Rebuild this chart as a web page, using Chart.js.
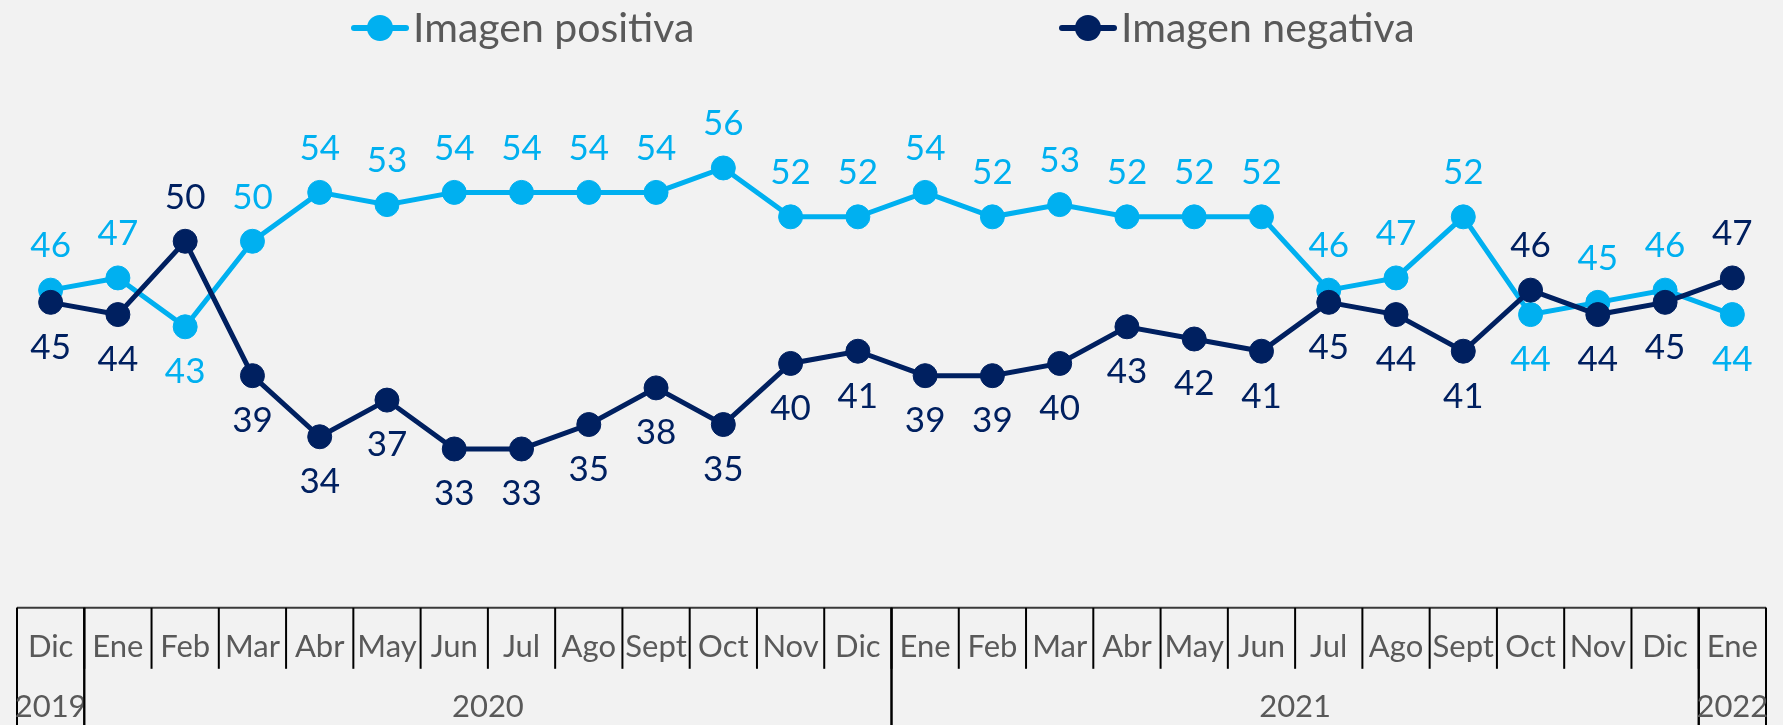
<!DOCTYPE html>
<html>
<head>
<meta charset="utf-8">
<script src="https://cdn.jsdelivr.net/npm/chart.js@4.4.0/dist/chart.umd.min.js"></script>
<style>
    html, body { margin: 0; padding: 0; background: #f2f2f2; }
    #chart { display: block; background: #f2f2f2; }
</style>
</head>
<body>
<canvas id="chart" width="1783" height="725"></canvas>
<script>
const MONTHS = [
    'Dic',
    'Ene', 'Feb', 'Mar', 'Abr', 'May', 'Jun', 'Jul', 'Ago', 'Sept', 'Oct', 'Nov', 'Dic',
    'Ene', 'Feb', 'Mar', 'Abr', 'May', 'Jun', 'Jul', 'Ago', 'Sept', 'Oct', 'Nov', 'Dic',
    'Ene'
];
const YEARS = ['2019', '2020', '2021', '2022'];
const YEAR_SPANS = [1, 12, 12, 1];

const POSITIVE = [46, 47, 43, 50, 54, 53, 54, 54, 54, 54, 56, 52, 52, 54, 52, 53, 52, 52, 52, 46, 47, 52, 44, 45, 46, 44];
const NEGATIVE = [45, 44, 50, 39, 34, 37, 33, 33, 35, 38, 35, 40, 41, 39, 39, 40, 43, 42, 41, 45, 44, 41, 46, 44, 45, 47];

const SERIES_NAMES = ['Imagen positiva', 'Imagen negativa'];

const COLORS = {
    positive: '#00b0f0',
    negative: '#002060',
    text: '#595959',
    rule: '#000000',
    topRule: '#3a3a3a'
};

const FONT = 'Lato, "Noto Sans", sans-serif';

// value labels: the higher series of each month goes above its point, the lower one below
const valueLabels = {
    id: 'valueLabels',
    afterDatasetsDraw(chart) {
        const ctx = chart.ctx;
        const series = [POSITIVE, NEGATIVE];
        ctx.save();
        ctx.font = '35px ' + FONT;
        ctx.textAlign = 'center';
        ctx.textBaseline = 'middle';
        chart.data.datasets.forEach((ds, di) => {
            const meta = chart.getDatasetMeta(di);
            const other = series[1 - di];
            meta.data.forEach((pt, i) => {
                const v = ds.data[i];
                const above = v > other[i];
                const y = above ? pt.y - 44 : pt.y + 45;
                ctx.fillStyle = ds.borderColor;
                ctx.fillText(String(v), pt.x, y);
            });
        });
        ctx.restore();
    }
};

// month/year table under the plot, built off the category scale
const axisTable = {
    id: 'axisTable',
    afterDraw(chart) {
        const ctx = chart.ctx;
        const x = chart.scales.x;
        const top = chart.chartArea.bottom;
        const bottom = chart.height;
        const half = (x.getPixelForValue(1) - x.getPixelForValue(0)) / 2;
        const edge = i => x.getPixelForValue(i) - half;

        ctx.save();
        ctx.strokeStyle = COLORS.topRule;
        ctx.lineWidth = 2;
        ctx.beginPath();
        ctx.moveTo(edge(0), top);
        ctx.lineTo(edge(MONTHS.length), top);
        ctx.stroke();

        ctx.strokeStyle = COLORS.rule;
        ctx.lineWidth = 2;
        for (let i = 0; i <= MONTHS.length; i++) {
            ctx.beginPath();
            ctx.moveTo(edge(i), top);
            ctx.lineTo(edge(i), top + 61);
            ctx.stroke();
        }

        let start = 0;
        ctx.font = '31px ' + FONT;
        ctx.fillStyle = COLORS.text;
        ctx.textAlign = 'center';
        ctx.textBaseline = 'middle';
        YEARS.forEach((yr, k) => {
            const end = start + YEAR_SPANS[k];
            [start, end].forEach(b => {
                ctx.beginPath();
                ctx.moveTo(edge(b), top);
                ctx.lineTo(edge(b), bottom);
                ctx.stroke();
            });
            ctx.fillText(yr, (edge(start) + edge(end)) / 2, 707);
            start = end;
        });
        ctx.restore();
    }
};

// legend with line-and-dot markers
const lineLegend = {
    id: 'lineLegend',
    afterDraw(chart) {
        const ctx = chart.ctx;
        const spots = [380, 1088];
        ctx.save();
        chart.data.datasets.forEach((ds, i) => {
            const cx = spots[i];
            const cy = 28;
            ctx.strokeStyle = ds.borderColor;
            ctx.lineWidth = 6;
            ctx.lineCap = 'round';
            ctx.beginPath();
            ctx.moveTo(cx - 26, cy);
            ctx.lineTo(cx + 26, cy);
            ctx.stroke();
            ctx.fillStyle = ds.borderColor;
            ctx.beginPath();
            ctx.arc(cx, cy, 13, 0, Math.PI * 2);
            ctx.fill();

            ctx.font = '41px ' + FONT;
            ctx.fillStyle = COLORS.text;
            ctx.textAlign = 'left';
            ctx.textBaseline = 'alphabetic';
            ctx.fillText(ds.label, cx + 33, 42);
        });
        ctx.restore();
    }
};

function makeChart() {
    const ctx = document.getElementById('chart').getContext('2d');
    new Chart(ctx, {
        type: 'line',
        data: {
            labels: MONTHS,
            datasets: [{
                label: SERIES_NAMES[0],
                data: POSITIVE,
                borderColor: COLORS.positive,
                backgroundColor: COLORS.positive,
                borderWidth: 5,
                pointRadius: 12,
                pointBorderWidth: 1,
                pointBackgroundColor: COLORS.positive,
                tension: 0,
                order: 2
            }, {
                label: SERIES_NAMES[1],
                data: NEGATIVE,
                borderColor: COLORS.negative,
                backgroundColor: COLORS.negative,
                borderWidth: 5,
                pointRadius: 12,
                pointBorderWidth: 1,
                pointBackgroundColor: COLORS.negative,
                tension: 0,
                order: 1
            }]
        },
        options: {
            responsive: false,
            animation: false,
            devicePixelRatio: 1,
            layout: {
                padding: { top: 58, left: 17, right: 17, bottom: 46 }
            },
            plugins: {
                legend: { display: false },
                tooltip: { enabled: false }
            },
            scales: {
                x: {
                    offset: true,
                    grid: { display: false },
                    border: { display: false },
                    ticks: {
                        color: COLORS.text,
                        font: { family: FONT, size: 31 },
                        padding: 13,
                        maxRotation: 0,
                        autoSkip: false
                    }
                },
                y: {
                    display: false,
                    min: 20,
                    max: 65
                }
            }
        },
        plugins: [valueLabels, axisTable, lineLegend]
    });
}

makeChart();
</script>
</body>
</html>
